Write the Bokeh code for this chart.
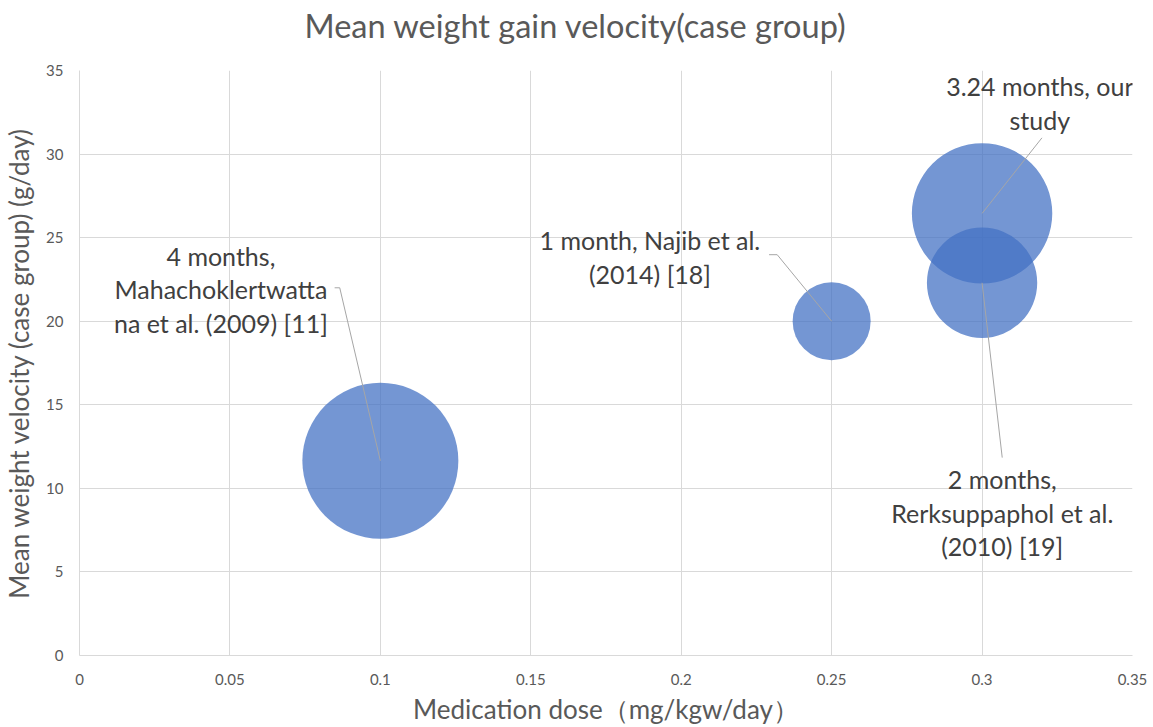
import math
from bokeh.plotting import figure
from bokeh.models import ColumnDataSource, FixedTicker, Title
from bokeh.core.properties import value
from bokeh.embed import file_html
from bokeh.resources import INLINE

# ---- data ----
dose = [0.1, 0.25, 0.3, 0.3]                      # mg/kgw/day
velocity = [11.65, 20.0, 26.45, 22.3]              # g/day
months = [4.0, 1.0, 3.24, 2.0]                     # bubble size (study duration)
labels = [
    "4 months,\nMahachoklertwatta\nna et al. (2009) [11]",
    "1 month, Najib et al.\n(2014) [18]",
    "3.24 months, our\nstudy",
    "2 months,\nRerksuppaphol et al.\n(2010) [19]",
]
x_ticks = [0, 0.05, 0.1, 0.15, 0.2, 0.25, 0.3, 0.35]
x_tick_labels = ["0", "0.05", "0.1", "0.15", "0.2", "0.25", "0.3", "0.35"]
y_ticks = [0, 5, 10, 15, 20, 25, 30, 35]
y_tick_labels = ["0", "5", "10", "15", "20", "25", "30", "35"]

# ---- annotation placement (data units) ----
label_x = [0.047, 0.1896, 0.3192, 0.3067]
label_y = [21.9, 23.85, 33.05, 8.55]
leader_xs = [[0.0848, 0.0865], [0.2292, 0.2319], [0.3199], [0.3067]]
leader_ys = [[22.0, 22.0], [23.98, 23.98], [30.97], [11.84]]

FONT = "Lato"
AXIS_GRAY = "#595959"
GRID = "#D9D9D9"

p = figure(width=1153, height=727, output_backend="svg", toolbar_location=None,
           x_range=(0, 0.35), y_range=(0, 35),
           min_border_left=79, min_border_right=21, min_border_top=70, min_border_bottom=72)
p.outline_line_color = None
p.background_fill_color = "white"
p.border_fill_color = "white"
p.title.text = ""

# bubbles: area proportional to months
BASE_DIAM = 78.0
src = ColumnDataSource(dict(x=dose, y=velocity,
                            size=[BASE_DIAM * math.sqrt(m) for m in months]))
p.scatter("x", "y", size="size", source=src, marker="circle",
          fill_color="#4472C4", fill_alpha=0.74, line_color=None)

# leader lines (label -> bubble centre)
lx = [leader_xs[i] + [dose[i]] for i in range(len(dose))]
ly = [leader_ys[i] + [velocity[i]] for i in range(len(dose))]
p.multi_line(lx, ly, line_color="#A6A6A6", line_width=1)

# data labels
p.text(x=label_x, y=label_y, text=labels, text_font=value(FONT),
       text_font_size="25px", text_color="#404040", text_align="center",
       text_baseline="middle", text_line_height=1.13)

# axes
for ax in (p.xaxis, p.yaxis):
    ax.axis_line_color = GRID
    ax.major_tick_line_color = None
    ax.minor_tick_line_color = None
    ax.major_tick_out = 0
    ax.major_tick_in = 0
    ax.minor_tick_out = 0
    ax.major_label_text_font = FONT
    ax.major_label_text_font_size = "15px"
    ax.major_label_text_color = AXIS_GRAY
    ax.axis_label_text_font = FONT
    ax.axis_label_text_font_size = "26px"
    ax.axis_label_text_font_style = "normal"
    ax.axis_label_text_color = AXIS_GRAY

p.xaxis.ticker = FixedTicker(ticks=x_ticks)
p.yaxis.ticker = FixedTicker(ticks=y_ticks)
p.xaxis.major_label_overrides = dict(zip(x_ticks, x_tick_labels))
p.yaxis.major_label_overrides = dict(zip(y_ticks, y_tick_labels))
p.xaxis.major_label_standoff = 18
p.yaxis.major_label_standoff = 16
p.xaxis.axis_label = "Medication dose（mg/kgw/day）"
p.yaxis.axis_label = "Mean weight velocity (case group) (g/day)"
p.xaxis.axis_label_standoff = 5
p.yaxis.axis_label_standoff = 8

p.xgrid.grid_line_color = GRID
p.ygrid.grid_line_color = GRID

# title: spacer panel next to the frame, real title above it
spacer = Title(text=" ", text_font_size="2px", standoff=20)
p.add_layout(spacer, "above")
title = Title(text="Mean weight gain velocity(case group)", text_font=FONT,
              text_font_size="32.5px", text_font_style="normal", text_color=AXIS_GRAY,
              align="left", offset=225, standoff=0, vertical_align="top")
p.add_layout(title, "above")

open("out.html", "w").write(file_html(p, INLINE))
